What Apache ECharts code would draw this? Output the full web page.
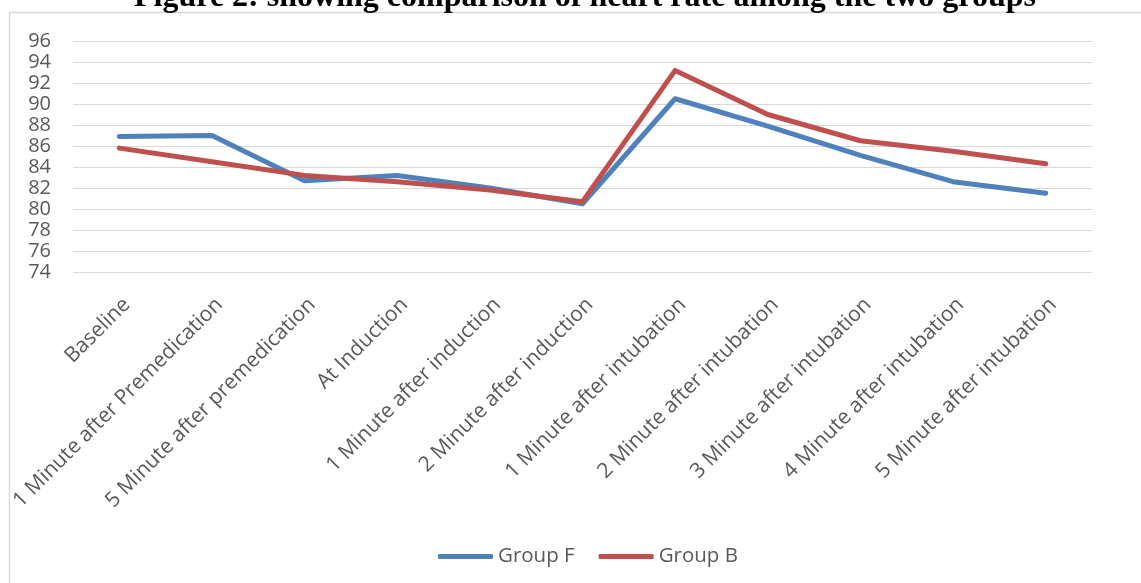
<!DOCTYPE html>
<html>
<head>
<meta charset="utf-8">
<script src="https://cdn.jsdelivr.net/npm/echarts@6/dist/echarts.min.js"></script>
<style>
  html, body { margin: 0; padding: 0; background: #fff; }
  #chart { width: 1141px; height: 583px; }
</style>
</head>
<body>
<div id="chart"></div>
<script>
// Heart rate (beats/min) at each time point for the two study groups
const categories = [
  'Baseline',
  '1 Minute after Premedication',
  '5 Minute after premedication',
  'At Induction',
  '1 Minute after induction',
  '2 Minute after induction',
  '1 Minute after intubation',
  '2 Minute after intubation',
  '3 Minute after intubation',
  '4 Minute after intubation',
  '5 Minute after intubation'
];
const groupF = [86.9, 87.0, 82.7, 83.2, 82.0, 80.5, 90.5, 87.9, 85.1, 82.6, 81.5];
const groupB = [85.8, 84.5, 83.2, 82.6, 81.8, 80.7, 93.2, 89.0, 86.5, 85.5, 84.3];
const yMin = 74, yMax = 96, yStep = 2;

const titleText = 'Figure 2: showing comparison of heart rate among the two groups';
const labelFont = '"Open Sans", "Noto Sans", sans-serif';
const textGray = '#595959';

const chart = echarts.init(document.getElementById('chart'), null, { renderer: 'canvas' });

chart.setOption({
  backgroundColor: '#ffffff',
  animation: false,
  graphic: [
    {
      type: 'rect',
      shape: { x: 9.5, y: 12.5, width: 1300, height: 700 },
      style: { fill: 'none', stroke: '#d9d9d9', lineWidth: 1.5 },
      z: 0
    },
    {
      type: 'text',
      x: 585,
      y: 14,
      style: {
        text: titleText,
        font: 'bold 32px "Liberation Serif", "Times New Roman", serif',
        fill: '#000000',
        align: 'center',
        verticalAlign: 'bottom'
      },
      z: 10
    }
  ],
  grid: { left: 73, right: 49, top: 41, height: 231, containLabel: false },
  legend: {
    left: 433,
    top: 541,
    icon: 'roundRect',
    itemWidth: 55,
    itemHeight: 5,
    itemGap: 24,
    textStyle: { fontFamily: labelFont, fontSize: 20.5, color: textGray },
    data: ['Group F', 'Group B']
  },
  xAxis: {
    type: 'category',
    data: categories,
    boundaryGap: true,
    axisLine: { show: false },
    axisTick: { show: false },
    axisLabel: {
      interval: 0,
      rotate: 45,
      margin: 22,
      align: 'right',
      verticalAlign: 'top',
      fontFamily: labelFont,
      fontSize: 21,
      color: textGray
    }
  },
  yAxis: {
    type: 'value',
    min: yMin,
    max: yMax,
    interval: yStep,
    axisLine: { show: false },
    axisTick: { show: false },
    axisLabel: {
      margin: 22,
      fontFamily: labelFont,
      fontSize: 20,
      color: textGray
    },
    splitLine: { lineStyle: { color: '#d9d9d9', width: 1 } }
  },
  series: [
    {
      name: 'Group F',
      type: 'line',
      data: groupF,
      symbol: 'none',
      color: '#4f81bd',
      lineStyle: { width: 5, color: '#4f81bd', cap: 'round', join: 'round' }
    },
    {
      name: 'Group B',
      type: 'line',
      data: groupB,
      symbol: 'none',
      color: '#c0504d',
      lineStyle: { width: 5, color: '#c0504d', cap: 'round', join: 'round' }
    }
  ]
});
</script>
</body>
</html>
